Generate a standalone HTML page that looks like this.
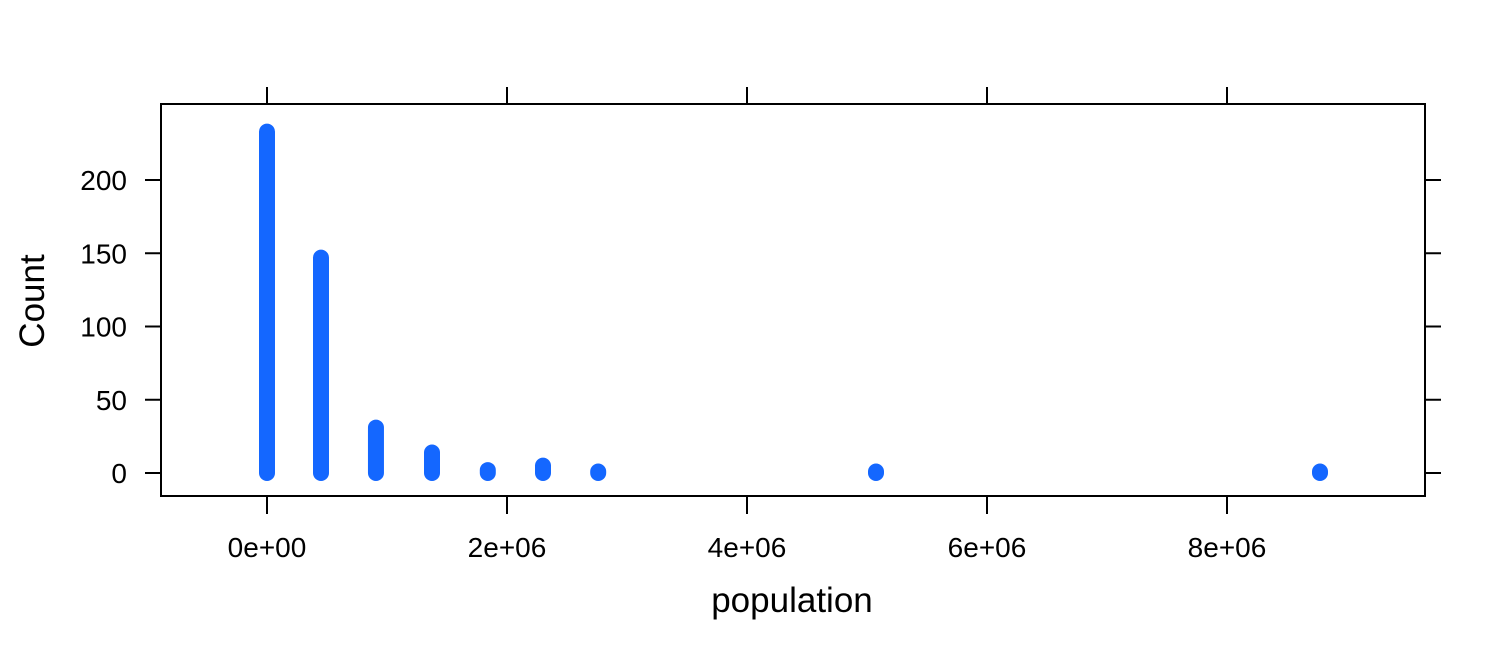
<!DOCTYPE html>
<html><head><meta charset="utf-8"><style>
body{margin:0;background:#fff}
svg text{font-family:"Liberation Sans",Arial,sans-serif;fill:#000}
</style></head><body>
<svg width="1512" height="648">
<g id="plot"></g>
</svg>
<script>
const binCenters=[0,450000,908000,1375000,1840000,2300000,2760000,5075000,8775000];
const counts=[233,147,31,14,2,5,1,1,1];
const xTicks=[0,2e6,4e6,6e6,8e6];
const xTickLabels=["0e+00","2e+06","4e+06","6e+06","8e+06"];
const yTicks=[0,50,100,150,200];
const NS="http://www.w3.org/2000/svg";
const L=161,R=1425,T=104,B=496;
function xs(v){return 267+v*120/1e6;}
function ys(v){return 473-v*1.465;}
const g=document.getElementById('plot');
function mk(t,a,p){const e=document.createElementNS(NS,t);for(const k in a)e.setAttribute(k,a[k]);(p||g).appendChild(e);return e;}
const frame=mk('rect',{x:L,y:T,width:R-L,height:B-T,fill:'none',stroke:'#000','stroke-width':2});


xTicks.forEach((v,i)=>{
  const x=xs(v);
  const t1=mk('line',{x1:x,x2:x,y1:B,y2:B+18,stroke:'#000','stroke-width':2});
  
  
  const t2=mk('line',{x1:x,x2:x,y1:T,y2:T-17,stroke:'#000','stroke-width':2});
  
  
  const tx=mk('text',{x:x,y:557,'text-anchor':'middle','font-size':'28px'});
  tx.textContent=xTickLabels[i];
  
  
});
yTicks.forEach(v=>{
  const y=ys(v);
  const t1=mk('line',{x1:L,x2:L-16,y1:y,y2:y,stroke:'#000','stroke-width':2});
  
  
  const t2=mk('line',{x1:R,x2:R+16,y1:y,y2:y,stroke:'#000','stroke-width':2});
  
  
  const tx=mk('text',{x:127,y:y+10,'text-anchor':'end','font-size':'28px'});
  tx.textContent=String(v);
  
  
});
binCenters.forEach((c,i)=>{
  const x=xs(c);
  const s=mk('line',{x1:x,x2:x,y1:ys(0),y2:ys(counts[i]),stroke:'#1467ff','stroke-width':16,'stroke-linecap':'round'});
  
  
});
const xl=mk('text',{x:792,y:612,'text-anchor':'middle','font-size':'35px'});
xl.textContent='population';


const yl=mk('text',{x:0,y:0,'text-anchor':'middle','font-size':'35px',transform:'translate(44,301) rotate(-90)'});
yl.textContent='Count';


</script>
</body></html>
